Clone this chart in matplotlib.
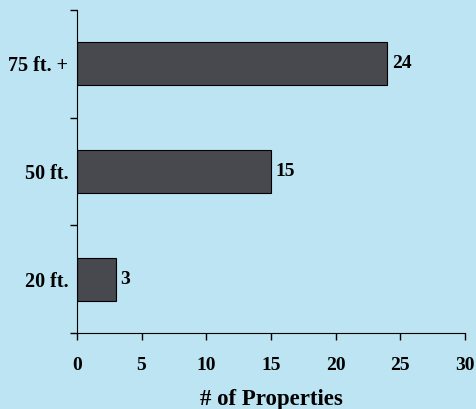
import matplotlib.pyplot as plt

categories = ['20 ft.', '50 ft.', '75 ft. +']
counts = [3, 15, 24]
x_ticks = [0, 5, 10, 15, 20, 25, 30]

bg = '#bde4f2'
bar_color = '#47494e'

plt.rcParams['font.family'] = ['Liberation Serif', 'DejaVu Serif']
plt.rcParams['font.weight'] = 'bold'

fig = plt.figure(figsize=(4.77, 4.09), dpi=100)
fig.patch.set_facecolor(bg)
ax = fig.add_axes([0.161, 0.186, 0.814, 0.79])
ax.set_facecolor(bg)

pos = list(range(len(categories)))
bars = ax.barh(pos, counts, height=0.4, color=bar_color, edgecolor='black', linewidth=0.8)
for p, v in zip(pos, counts):
    ax.text(v + 0.35, p, str(v), va='center', ha='left', fontsize=14, fontweight='bold')

ax.set_xlim(0, 30)
ax.set_ylim(-0.5, len(categories) - 0.5)
ax.set_xticks(x_ticks)
ax.set_yticks(pos)
ax.set_yticklabels(categories)
ax.set_yticks([p - 0.5 for p in pos] + [len(categories) - 0.5], minor=True)
ax.tick_params(axis='y', which='major', length=0, pad=6, labelsize=14.5)
ax.tick_params(axis='y', which='minor', length=5, width=1)
ax.tick_params(axis='x', length=5, width=1, pad=12, labelsize=14)
for lab in ax.get_xticklabels() + ax.get_yticklabels():
    lab.set_fontweight('bold')

ax.spines['top'].set_visible(False)
ax.spines['right'].set_visible(False)
ax.set_xlabel('# of Properties', fontsize=16.5, fontweight='bold', labelpad=11)

fig.savefig('out.png', dpi=100, facecolor=bg)
